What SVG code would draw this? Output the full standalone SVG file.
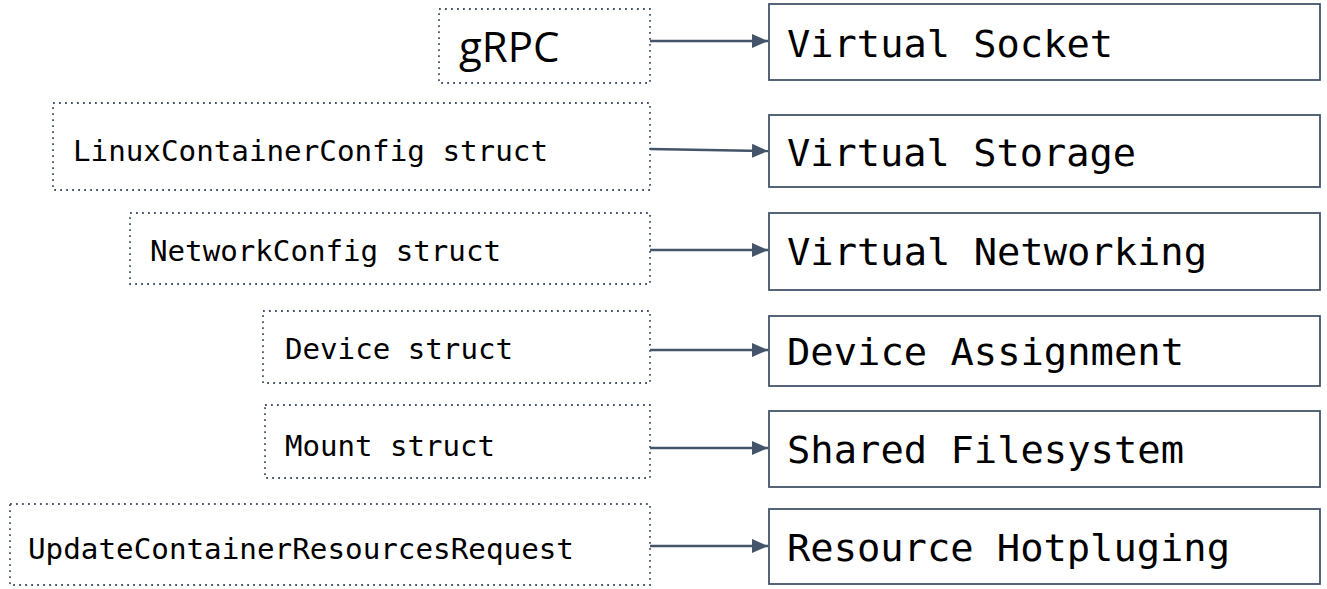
<svg xmlns="http://www.w3.org/2000/svg" width="1327" height="589" viewBox="0 0 1327 589">
<style>
.src{fill:#fff;stroke:#44546A;stroke-width:1.8;stroke-dasharray:1.8 4.2}
.dst{fill:#fff;stroke:#44546A;stroke-width:1.8}
.edge{stroke:#44546A;stroke-width:2.4;fill:none;marker-end:url(#ah)}
.st{font-family:"DejaVu Sans Mono","Liberation Mono",monospace;font-size:28px;fill:#000}
.dt{font-family:"DejaVu Sans Mono","Liberation Mono",monospace;font-size:38px;fill:#000}
.gr{font-family:"Open Sans","Noto Sans","Liberation Sans",sans-serif;font-size:42px;fill:#000}
</style>
<defs>
<marker id="ah" viewBox="0 0 16 14" refX="16" refY="7" markerUnits="userSpaceOnUse" markerWidth="16" markerHeight="14" orient="auto">
<path d="M0,0 L16,7 L0,14 z" fill="#44546A"/>
</marker>
</defs>
<g id="connectors">
<line class="edge" x1="650" y1="41" x2="768" y2="41"/>
<line class="edge" x1="650" y1="149" x2="768" y2="151"/>
<line class="edge" x1="650" y1="250" x2="768" y2="250"/>
<line class="edge" x1="650" y1="350" x2="768" y2="350"/>
<line class="edge" x1="650" y1="448" x2="768" y2="448"/>
<line class="edge" x1="650" y1="546" x2="768" y2="546"/>
</g>
<g id="n-grpc"><rect class="src" x="439" y="9" width="211" height="74"/><text class="gr" x="459" y="62">gRPC</text></g>
<g id="n-linux"><rect class="src" x="53" y="103" width="597" height="87"/><text class="st" x="73" y="161" textLength="475" lengthAdjust="spacingAndGlyphs">LinuxContainerConfig struct</text></g>
<g id="n-network"><rect class="src" x="130" y="213" width="520" height="71"/><text class="st" x="150" y="261" textLength="351" lengthAdjust="spacingAndGlyphs">NetworkConfig struct</text></g>
<g id="n-device"><rect class="src" x="263" y="311" width="387" height="72"/><text class="st" x="285" y="359" textLength="228" lengthAdjust="spacingAndGlyphs">Device struct</text></g>
<g id="n-mount"><rect class="src" x="265" y="405" width="385" height="73"/><text class="st" x="285" y="456" textLength="210" lengthAdjust="spacingAndGlyphs">Mount struct</text></g>
<g id="n-update"><rect class="src" x="10" y="504" width="640" height="81"/><text class="st" x="28" y="559" textLength="546" lengthAdjust="spacingAndGlyphs">UpdateContainerResourcesRequest</text></g>
<g id="n-socket"><rect class="dst" x="769" y="4" width="551" height="76"/><text class="dt" x="787" y="57" textLength="326" lengthAdjust="spacingAndGlyphs">Virtual Socket</text></g>
<g id="n-storage"><rect class="dst" x="769" y="115" width="551" height="72"/><text class="dt" x="787" y="166" textLength="349" lengthAdjust="spacingAndGlyphs">Virtual Storage</text></g>
<g id="n-networking"><rect class="dst" x="769" y="213" width="551" height="77"/><text class="dt" x="787" y="265" textLength="420" lengthAdjust="spacingAndGlyphs">Virtual Networking</text></g>
<g id="n-device-assign"><rect class="dst" x="769" y="316" width="551" height="70"/><text class="dt" x="787" y="365" textLength="397" lengthAdjust="spacingAndGlyphs">Device Assignment</text></g>
<g id="n-sharedfs"><rect class="dst" x="769" y="411" width="551" height="76"/><text class="dt" x="787" y="463" textLength="397" lengthAdjust="spacingAndGlyphs">Shared Filesystem</text></g>
<g id="n-hotplug"><rect class="dst" x="769" y="509" width="551" height="75"/><text class="dt" x="787" y="561" textLength="443" lengthAdjust="spacingAndGlyphs">Resource Hotpluging</text></g>
</svg>
